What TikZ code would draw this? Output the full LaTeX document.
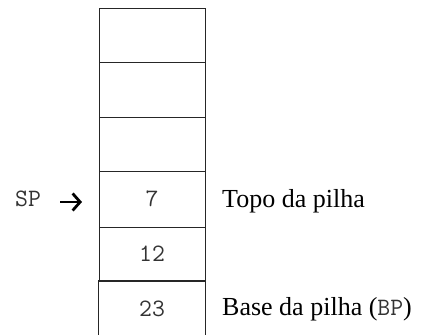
\documentclass[tikz,border=0pt]{standalone}
\usepackage{fontspec}
\setmainfont{Liberation Serif}
\usetikzlibrary{arrows.meta}
\tikzset{
  cell/.style={draw=black!85, line width=0.9pt, minimum width=106pt, inner sep=0pt, text=black!80, font=\fontsize{25}{28}\selectfont\ttfamily},
  lbl/.style={anchor=base west, inner sep=0pt, font=\fontsize{26}{30}\selectfont},
  sparrow/.style={line width=2.8pt, -{Straight Barb[length=7.5pt,width=17pt,line width=2.8pt]}}
}
\begin{document}
\begin{tikzpicture}[x=1pt,y=1pt]
\useasboundingbox (0,0) rectangle (422,334);
% cells (y measured from top: 8,62,117,171,227,281)
\node[cell, minimum height=54pt] (c1) at (152,334-35) {};
\node[cell, minimum height=55pt] (c2) at (152,334-89.5) {};
\node[cell, minimum height=54pt] (c3) at (152,334-144) {};
\node[cell, minimum height=56pt] (c4) at (152,334-199) {7};
\node[cell, minimum height=54pt] (c5) at (152,334-254) {12};
\node[cell, draw=none, minimum height=56pt] (c6) at (152,334-309) {23};
\draw[draw=black!85, line width=0.9pt] (c6.south west) -- (c6.north west) -- (c6.north east) -- (c6.south east);
% labels
\node[lbl, text=black!80, font=\fontsize{25}{28}\selectfont\ttfamily] (sp) at (15,334-207) {SP};
\coordinate (a1) at (60,334-202);
\coordinate (a2) at (82,334-202);
\draw[sparrow] (a1) -- (a2);
\node[lbl] (topo) at (222,334-208) {Topo da pilha};
\node[lbl] (base) at (222,334-315) {Base da pilha ({\fontsize{25}{28}\selectfont\ttfamily\color{black!80}BP})};
\end{tikzpicture}
\end{document}
